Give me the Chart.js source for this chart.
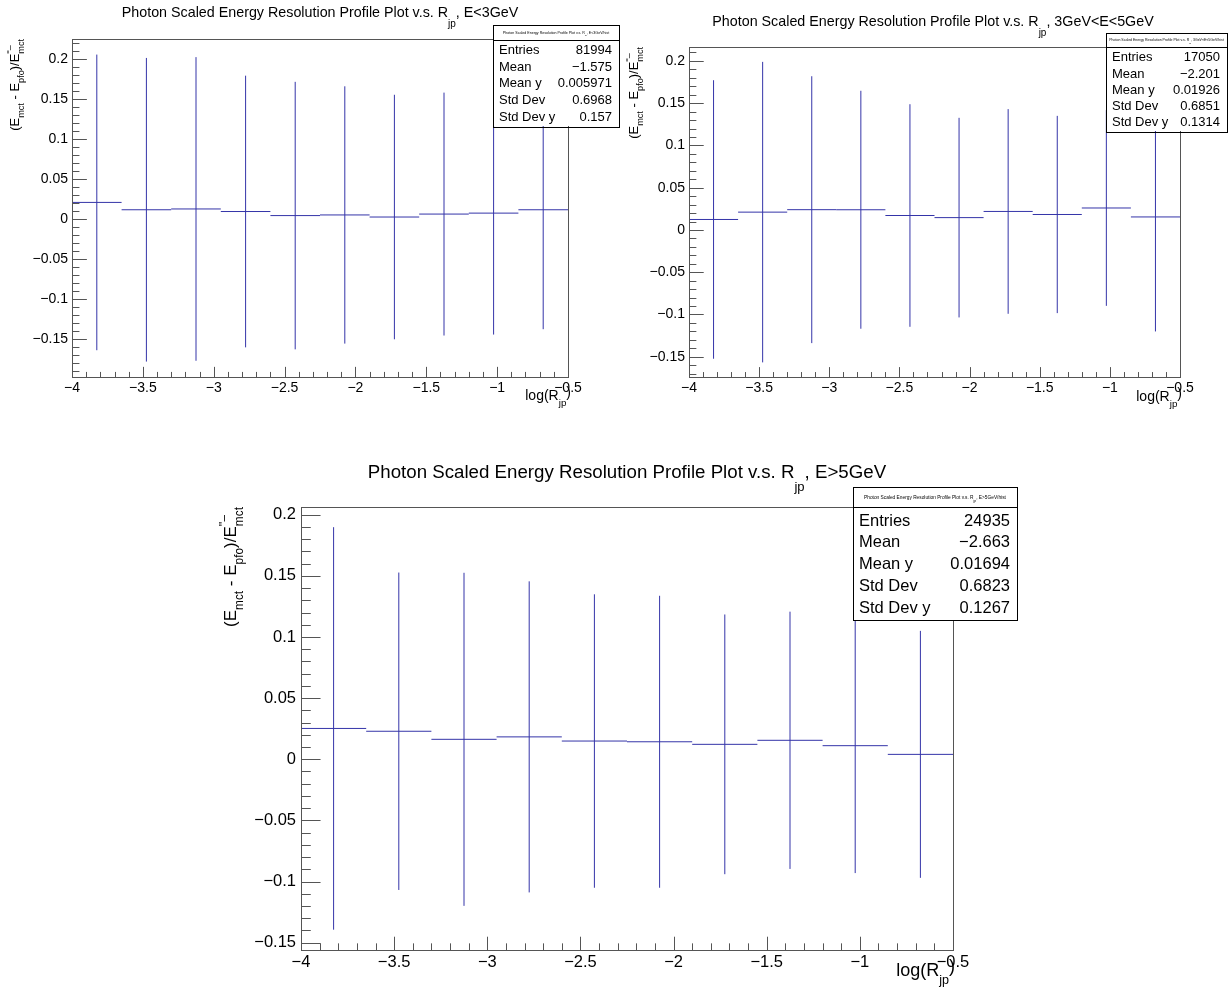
<!DOCTYPE html>
<html>
<head>
<meta charset="utf-8">
<script src="https://cdn.jsdelivr.net/npm/chart.js@4.4.1/dist/chart.umd.min.js"></script>
<style>
  body { margin: 0; background: #fff; width: 1228px; height: 996px; position: relative; overflow: hidden; }
  canvas { position: absolute; }
</style>
</head>
<body>
<canvas id="cLow"></canvas>
<canvas id="cMid"></canvas>
<canvas id="cHigh"></canvas>
<script>
// profile bins in log(R_jp)
const binCenters = [-3.825, -3.475, -3.125, -2.775, -2.425, -2.075, -1.725, -1.375, -1.025, -0.675];
const binHalfWidth = 0.175;
const xTicks = [-4, -3.5, -3, -2.5, -2, -1.5, -1, -0.5];

// E < 3 GeV
const lowMean = [0.0205, 0.0113, 0.0123, 0.0091, 0.0040, 0.0048, 0.0022, 0.0059, 0.0071, 0.0113];
const lowErr  = [0.185, 0.190, 0.190, 0.170, 0.1674, 0.161, 0.153, 0.152, 0.152, 0.1495];
const lowYRange = [-0.198, 0.225];
const lowYTicks = [-0.15, -0.1, -0.05, 0, 0.05, 0.1, 0.15, 0.2];
const lowStats = [['Entries', '81994'], ['Mean', '\u22121.575'], ['Mean y', '0.005971'], ['Std Dev', '0.6968'], ['Std Dev y', '0.157']];

// 3 GeV < E < 5 GeV
const midMean = [0.0124, 0.0211, 0.0240, 0.0239, 0.0171, 0.0146, 0.0219, 0.0183, 0.0260, 0.0154];
const midErr  = [0.1648, 0.1778, 0.1579, 0.1408, 0.1317, 0.1181, 0.1211, 0.1167, 0.1158, 0.1355];
const midYRange = [-0.174, 0.2165];
const midYTicks = [-0.15, -0.1, -0.05, 0, 0.05, 0.1, 0.15, 0.2];
const midStats = [['Entries', '17050'], ['Mean', '\u22122.201'], ['Mean y', '0.01926'], ['Std Dev', '0.6851'], ['Std Dev y', '0.1314']];

// E > 5 GeV
const highMean = [0.0252, 0.0229, 0.0163, 0.0183, 0.0149, 0.0143, 0.0122, 0.0155, 0.0111, 0.0040];
const highErr  = [0.1646, 0.1298, 0.1362, 0.1272, 0.1200, 0.1194, 0.1062, 0.1052, 0.1042, 0.1010];
const highYRange = [-0.156, 0.2063];
const highYTicks = [-0.15, -0.1, -0.05, 0, 0.05, 0.1, 0.15, 0.2];
const highStats = [['Entries', '24935'], ['Mean', '\u22122.663'], ['Mean y', '0.01694'], ['Std Dev', '0.6823'], ['Std Dev y', '0.1267']];

const FONT = '"Liberation Sans", Arial, Helvetica, sans-serif';
const LINE = '#3434a8';
const TITLE = 'Photon Scaled Energy Resolution Profile Plot v.s. R';

const panels = [
  { id: 'cLow', mean: lowMean, err: lowErr, yRange: lowYRange, yTicks: lowYTicks, stats: lowStats, suffix: ', E<3GeV',
    pos: { x: 0, y: 0, w: 620, h: 420 }, area: { l: 72, r: 568, t: 39, b: 377 }, fs: 14, xts: 14, yts: 13,
    title: { x: 320, y: 17, s: 14.3 }, yTitle: { x: 19, y: 39 }, xTitle: { x: 571, y: 400 },
    box: { x: 493, y: 24.5, w: 126, h: 101.5, fs: 13, tfs: 3.6 } },
  { id: 'cMid', mean: midMean, err: midErr, yRange: midYRange, yTicks: midYTicks, stats: midStats, suffix: ', 3GeV<E<5GeV',
    pos: { x: 620, y: 0, w: 608, h: 420 }, area: { l: 69, r: 560, t: 47, b: 377 }, fs: 14, xts: 14, yts: 13,
    title: { x: 313, y: 26, s: 14.3 }, yTitle: { x: 18, y: 47 }, xTitle: { x: 562, y: 401 },
    box: { x: 486, y: 32.5, w: 121, h: 98.5, fs: 13, tfs: 3.5 } },
  { id: 'cHigh', mean: highMean, err: highErr, yRange: highYRange, yTicks: highYTicks, stats: highStats, suffix: ', E>5GeV',
    pos: { x: 180, y: 440, w: 860, h: 556 }, area: { l: 121, r: 773, t: 67, b: 510 }, fs: 16.5, xts: 18, yts: 17,
    title: { x: 447, y: 38, s: 18.7 }, yTitle: { x: 56, y: 67 }, xTitle: { x: 775, y: 536 },
    box: { x: 673, y: 47, w: 164, h: 133, fs: 16.5, tfs: 4.8 } }
];

function fmt(v) {
  if (v === 0) return '0';
  return (v < 0 ? '\u2212' : '') + String(Math.abs(v));
}

// tiny TLatex-ish writer: kind '' | 'sub' | 'sup' (no advance) | 'raise'
function drawTex(ctx, parts, x, y, size, align, subDy) {
  const items = parts.map(([t, k]) => {
    const s = (k === 'sub' || k === 'sup') ? size * 0.7 : size;
    ctx.font = s + 'px ' + FONT;
    return { t, k, s, w: ctx.measureText(t).width };
  });
  const total = items.reduce((a, it) => a + (it.k === 'sup' ? 0 : it.w), 0);
  let cx = align === 'right' ? x - total : align === 'center' ? x - total / 2 : x;
  ctx.textAlign = 'left';
  ctx.textBaseline = 'alphabetic';
  ctx.fillStyle = '#000';
  for (const it of items) {
    ctx.font = it.s + 'px ' + FONT;
    let dy = 0;
    if (it.k === 'sub') dy = size * subDy;
    else if (it.k === 'sup') dy = -size * 0.5;
    else if (it.k === 'raise') dy = -size * 0.25;
    ctx.fillText(it.t, cx, y + dy);
    if (it.k !== 'sup') cx += it.w;
  }
}

const rootFrame = {
  id: 'rootFrame',
  afterDatasetsDraw(chart, args, p) {
    const { ctx, chartArea: ca, scales: { x, y } } = chart;
    ctx.save();
    ctx.strokeStyle = '#555';
    ctx.lineWidth = 1;
    ctx.strokeRect(Math.round(ca.left) + 0.5, Math.round(ca.top) + 0.5, Math.round(ca.right - ca.left), Math.round(ca.bottom - ca.top));
    const xMaj = 0.03 * (ca.bottom - ca.top), yMaj = 0.03 * (ca.right - ca.left);
    ctx.beginPath();
    for (let i = Math.ceil(x.min * 10 - 1e-6); i <= Math.floor(x.max * 10 + 1e-6); i++) {
      const px = Math.round(x.getPixelForValue(i / 10)) + 0.5;
      const len = (i % 5 === 0) ? xMaj : xMaj / 2;
      ctx.moveTo(px, ca.bottom); ctx.lineTo(px, ca.bottom - len);
    }
    for (let i = Math.ceil(y.min * 100 - 1e-6); i <= Math.floor(y.max * 100 + 1e-6); i++) {
      const py = Math.round(y.getPixelForValue(i / 100)) + 0.5;
      const len = (i % 5 === 0) ? yMaj : yMaj / 2;
      ctx.moveTo(ca.left, py); ctx.lineTo(ca.left + len, py);
    }
    ctx.stroke();
    ctx.restore();
  },
  afterDraw(chart, args, p) {
    const { ctx } = chart;
    ctx.save();
    // titles
    drawTex(ctx, [[TITLE, ''], ['jp', 'sub'], [p.suffix, '']], p.title.x, p.title.y, p.title.s, 'center', 0.7);
    drawTex(ctx, [['log(R', ''], ['jp', 'sub'], [')', 'raise']], p.xTitle.x, p.xTitle.y, p.xts, 'right', 0.45);
    ctx.save();
    ctx.translate(p.yTitle.x, p.yTitle.y);
    ctx.rotate(-Math.PI / 2);
    drawTex(ctx, [['(E', ''], ['mct', 'sub'], [' - E', ''], ['pfo', 'sub'], [')/E', ''], ["''\u2013", 'sup'], ['mct', 'sub']], 0, 0, p.yts, 'right', 0.42);
    ctx.restore();

    // stats box
    const b = p.box;
    ctx.fillStyle = '#fff';
    ctx.fillRect(b.x, b.y, b.w, b.h);
    ctx.strokeStyle = '#000';
    ctx.lineWidth = 1;
    ctx.strokeRect(Math.round(b.x) + 0.5, Math.round(b.y) + 0.5, Math.round(b.w), Math.round(b.h));
    const sepY = Math.round(b.y + b.h * 0.15) + 0.5;
    ctx.beginPath(); ctx.moveTo(b.x, sepY); ctx.lineTo(b.x + b.w, sepY); ctx.stroke();
    ctx.save();
    ctx.beginPath(); ctx.rect(b.x + 1, b.y + 1, b.w - 2, b.h - 2); ctx.clip();
    drawTex(ctx, [[TITLE, ''], ['jp', 'sub'], [p.suffix + '/hist', '']], b.x + b.w / 2, b.y + b.h * 0.09, b.tfs, 'center', 0.7);
    ctx.restore();
    ctx.font = b.fs + 'px ' + FONT;
    ctx.fillStyle = '#000';
    ctx.textBaseline = 'middle';
    p.stats.forEach(([label, val], i) => {
      const ry = b.y + b.h * (0.257 + 0.1637 * i);
      ctx.textAlign = 'left';
      ctx.fillText(label, b.x + 6, ry);
      ctx.textAlign = 'right';
      ctx.fillText(val, b.x + b.w - 7, ry);
    });
    ctx.restore();
  }
};

function buildDatasets(mean, err) {
  const sets = [];
  binCenters.forEach((c, i) => {
    sets.push({ data: [{ x: c - binHalfWidth, y: mean[i] }, { x: c + binHalfWidth, y: mean[i] }] });
    sets.push({ data: [{ x: c, y: mean[i] - err[i] }, { x: c, y: mean[i] + err[i] }] });
  });
  return sets.map(s => Object.assign(s, { borderColor: LINE, borderWidth: 1, pointRadius: 0, fill: false, tension: 0 }));
}

panels.forEach(p => {
  const cv = document.getElementById(p.id);
  cv.width = p.pos.w; cv.height = p.pos.h;
  cv.style.left = p.pos.x + 'px'; cv.style.top = p.pos.y + 'px';
  const a = p.area;
  const tickFont = { family: FONT, size: p.fs };
  new Chart(cv, {
    type: 'line',
    data: { datasets: buildDatasets(p.mean, p.err) },
    options: {
      responsive: false, animation: false, events: [],
      layout: { padding: { left: 0, top: a.t, right: p.pos.w - a.r, bottom: 0 } },
      plugins: { legend: { display: false }, tooltip: { enabled: false }, rootFrame: p },
      scales: {
        x: {
          type: 'linear', min: xTicks[0], max: xTicks[xTicks.length - 1],
          grid: { display: false, drawTicks: false }, border: { display: false },
          afterBuildTicks: s => { s.ticks = xTicks.map(v => ({ value: v })); },
          afterFit: s => { s.height = p.pos.h - a.b; },
          ticks: { autoSkip: false, maxRotation: 0, padding: p.fs > 15 ? 3 : 3, color: '#000', font: tickFont, callback: v => fmt(v) }
        },
        y: {
          type: 'linear', min: p.yRange[0], max: p.yRange[1],
          grid: { display: false, drawTicks: false }, border: { display: false },
          afterBuildTicks: s => { s.ticks = p.yTicks.map(v => ({ value: v })); },
          afterFit: s => { s.width = a.l; },
          ticks: { autoSkip: false, padding: p.fs > 15 ? 5 : 4, color: '#000', font: tickFont, callback: v => fmt(v) }
        }
      }
    },
    plugins: [rootFrame]
  });
});
</script>
</body>
</html>
